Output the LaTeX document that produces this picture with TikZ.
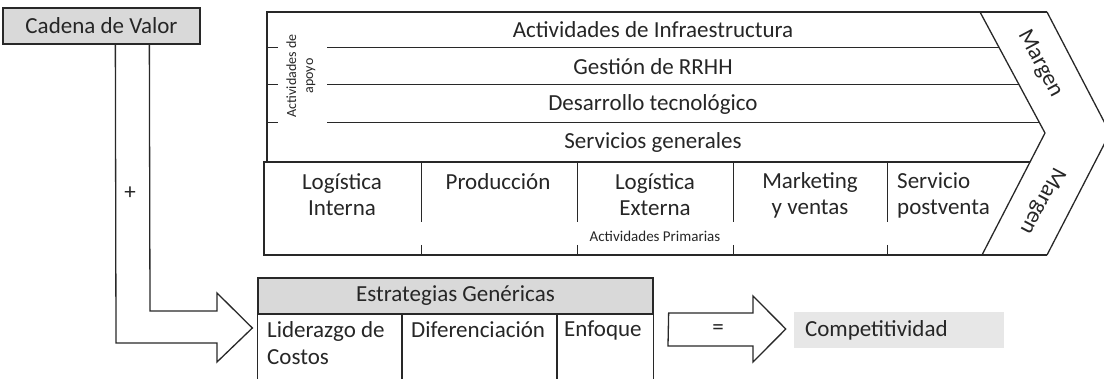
\documentclass[tikz,border=0pt]{standalone}
\usepackage{fontspec}
\setmainfont{Carlito}
\usetikzlibrary{positioning}
\usetikzlibrary{calc}
\definecolor{boxgray}{RGB}{217,217,217}
\definecolor{softgray}{RGB}{231,231,231}
\definecolor{inkgray}{RGB}{40,40,40}

\begin{document}
\begin{tikzpicture}[
  x=1pt, y=-1pt,
  font=\fontsize{23}{26}\selectfont,
  % --- styles ---
  chain/.style={draw=inkgray, line width=1.3pt},
  thin/.style={draw=inkgray, line width=1pt},
  graybox/.style={draw=inkgray, line width=1.3pt, fill=boxgray, inner sep=0pt},
  softbox/.style={fill=softgray, inner sep=0pt},
  lab/.style={inner sep=0pt, text=black!85},
  smalllab/.style={inner sep=0pt, text=black!85, font=\fontsize{15}{16}\selectfont},
  blockarrow/.style={draw=inkgray, line width=1.3pt, fill=white, line join=miter}
]
\useasboundingbox (0,0) rectangle (1104,379);

% ======================================================
% Cadena de valor (source box)
% ======================================================
\node[graybox, minimum width=197, minimum height=36] (cadena) at (101.5,26) {};
\node[lab] (cadenatxt) at (cadena.center) {Cadena de Valor};

% ======================================================
% Value chain: support activities
% ======================================================
\draw[chain] (267,162) -- (267,12) -- (1047,12);
\foreach \y in {48,85,123} {
  \draw[thin] (267,\y) -- (278,\y);
  \draw[thin] (327,\y) -- ({980+65*(\y-12)/121},\y);
}
\node[smalllab, rotate=90, align=center, font=\fontsize{14}{17}\selectfont] (apoyo) at (301,76) {Actividades de\\apoyo};

\node[lab] (infra) at (653,30)  {Actividades de Infraestructura};
\node[lab] (rrhh)  at (653,67)  {Gestión de RRHH};
\node[lab] (tecno) at (653,104) {Desarrollo tecnológico};
\node[lab] (serv)  at (653,142) {Servicios generales};

% ======================================================
% Value chain: primary activities
% ======================================================
\draw[chain] (1030,162) -- (264,162) -- (264,255) -- (1047,255);
\foreach \x in {421,577,733,887} {
  \draw[thin] (\x,162) -- (\x,222);
  \draw[thin] (\x,245) -- (\x,255);
}
\node[lab, align=center] (login) at (342,195) {Logística\\Interna};
\node[lab] (prod) at (498,182) {Producción};
\node[lab, align=center] (logext) at (655,195) {Logística\\Externa};
\node[lab, align=center] (mkt) at (810,195) {Marketing\\y ventas};
\node[lab, align=left, anchor=west] (post) at (897,195) {Servicio\\postventa};
\node[smalllab] (prim) at (655,236) {Actividades Primarias};

% ======================================================
% Margen (chevron)
% ======================================================
\draw[chain] (980,12) -- (1045,133) -- (982,255);
\draw[chain] (1047,12) -- (1110,133) -- (1047,255);
\node[lab, rotate=-62] (margenA) at (1040,64)  {Margen};
\node[lab, rotate=-118] (margenB) at (1042,201) {Margen};

% ======================================================
% Estrategias genéricas (table)
% ======================================================
\node[graybox, minimum width=395, minimum height=36] (estr) at (455.5,296) {};
\node[lab] (estrtxt) at (estr.center) {Estrategias Genéricas};
\draw[chain] (estr.south west) -- ++(0,70);
\draw[chain] (estr.south east) -- ++(0,70);
\draw[chain] (402,314) -- (402,384);
\draw[chain] (557,314) -- (557,384);
\node[lab, align=left, anchor=north west, font=\fontsize{23}{27}\selectfont] (costos) at (267,321) {Liderazgo de\\Costos};
\node[lab, anchor=north west] (dif) at (411,321) {Diferenciación};
\node[lab, anchor=north west] (enf) at (564,321) {Enfoque};

% ======================================================
% Competitividad
% ======================================================
\node[softbox, minimum width=210, minimum height=36] (comp) at (899,330) {};
\node[lab, anchor=west] (comptxt) at ($(comp.west)+(11,0)$) {Competitividad};

% ======================================================
% Block arrows
% ======================================================
\coordinate (plusA) at ($(cadena.south west)+(113,0)$);
\coordinate (plusB) at ($(cadena.south west)+(147,0)$);
\draw[blockarrow, fill=none] (plusA) -- (116,343) -- (217,343) -- (217,362)
  -- ($(estr.west)+(-5,32)$) -- (217,293) -- (217,311) -- (150,311) -- (plusB);
\node[lab] (plus) at (130,193) {+};

\draw[blockarrow] ($(estr.east)+(15,17)$) -- (753,313) -- (753,296)
  -- ($(comp.west)+(-8,-1)$) -- (753,362) -- (753,346) -- (668,346) -- cycle;
\node[lab] (eq) at (718,330) {=};

\end{tikzpicture}
\end{document}
